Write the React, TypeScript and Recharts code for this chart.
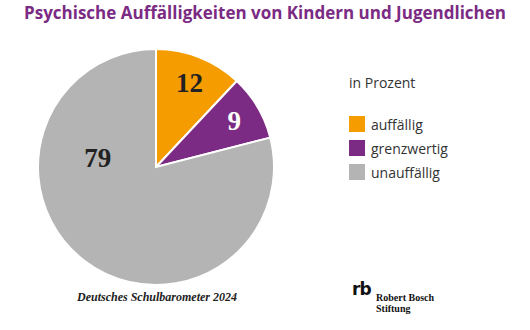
import { PieChart, Pie, Cell, Legend } from 'recharts'

const categories = ['auffällig', 'grenzwertig', 'unauffällig']
const values = [12, 9, 79]
const colors = ['#f59c00', '#7b2b83', '#b4b4b4']
const labelColors = ['#222222', '#ffffff', '#222222']

const data = categories.map((name, i) => ({ name, value: values[i] }))

const RAD = Math.PI / 180

// the big slice has its label nudged toward the left, like the original
function renderLabel(props: any) {
  const { cx, cy, outerRadius, midAngle, index, value } = props
  let angle = midAngle
  let r = outerRadius * 0.77
  if (index === 2) {
    angle = 171
    r = outerRadius * 0.5
  }
  const x = cx + r * Math.cos(-angle * RAD)
  const y = cy + r * Math.sin(-angle * RAD)
  return (
    <text
      x={x}
      y={y}
      fill={labelColors[index]}
      textAnchor="middle"
      dominantBaseline="central"
      fontFamily="'Liberation Serif', serif"
      fontWeight={700}
      fontSize={27}
    >
      {value}
    </text>
  )
}

function LegendBox() {
  return (
    <div style={{ fontFamily: "'Open Sans', sans-serif", fontSize: 14, color: '#333' }}>
      <div style={{ marginBottom: 20 }}>in Prozent</div>
      {data.map((d, i) => (
        <div key={d.name} style={{ display: 'flex', alignItems: 'center', height: 24 }}>
          <span style={{ width: 16, height: 16, background: colors[i], marginRight: 6 }} />
          {d.name}
        </div>
      ))}
    </div>
  )
}

export default function App() {
  return (
    <div style={{ position: 'fixed', left: 0, top: 0, width: 530, height: 330, background: '#fff' }}>
      <div
        style={{
          position: 'absolute',
          left: 0,
          width: 530,
          top: 1,
          textAlign: 'center',
          fontFamily: "'Open Sans', sans-serif",
          fontWeight: 700,
          fontSize: 17,
          color: '#7b2b83',
        }}
      >
        Psychische Auffälligkeiten von Kindern und Jugendlichen
      </div>
      <PieChart width={530} height={330} margin={{ top: 0, right: 0, bottom: 0, left: 0 }}>
        <Pie
          data={data}
          dataKey="value"
          nameKey="name"
          cx={156}
          cy={167}
          outerRadius={118}
          startAngle={90}
          endAngle={-270}
          stroke="#ffffff"
          strokeWidth={2}
          label={renderLabel}
          labelLine={false}
          isAnimationActive={false}
        >
          {data.map((d, i) => (
            <Cell key={d.name} fill={colors[i]} />
          ))}
        </Pie>
        <Legend
          content={() => <LegendBox />}
          wrapperStyle={{ position: 'absolute', left: 349, top: 73, width: 150 }}
        />
      </PieChart>
      <div
        style={{
          position: 'absolute',
          left: 77,
          top: 290,
          fontFamily: "'Liberation Serif', serif",
          fontStyle: 'italic',
          fontWeight: 700,
          fontSize: 12,
          color: '#222',
        }}
      >
        Deutsches Schulbarometer 2024
      </div>
      <div
        style={{
          position: 'absolute',
          left: 352,
          top: 281,
          fontFamily: "'DejaVu Sans', sans-serif",
          fontWeight: 900,
          fontSize: 17,
          lineHeight: '17px',
          letterSpacing: -1,
          color: '#111',
        }}
      >
        rb
      </div>
      <div
        style={{
          position: 'absolute',
          left: 376,
          top: 292,
          fontFamily: "'Liberation Serif', serif",
          fontWeight: 700,
          fontSize: 10,
          lineHeight: '11px',
          color: '#111',
        }}
      >
        Robert Bosch
        <br />
        Stiftung
      </div>
    </div>
  )
}
